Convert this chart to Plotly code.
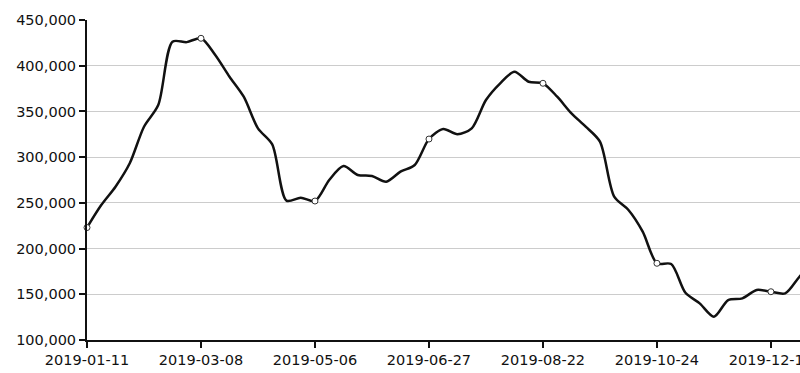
import plotly.graph_objects as go

dates = [
    "2019-01-11", "2019-01-18", "2019-01-25", "2019-02-01", "2019-02-08", "2019-02-15", "2019-02-22", "2019-03-01",
    "2019-03-08", "2019-03-15", "2019-03-22", "2019-03-29", "2019-04-04", "2019-04-12", "2019-04-19", "2019-04-26",
    "2019-05-06", "2019-05-10", "2019-05-17", "2019-05-24", "2019-05-31", "2019-06-06", "2019-06-14", "2019-06-21",
    "2019-06-27", "2019-07-04", "2019-07-11", "2019-07-18", "2019-07-25", "2019-08-01", "2019-08-08", "2019-08-15",
    "2019-08-22", "2019-08-29", "2019-09-05", "2019-09-12", "2019-09-19", "2019-09-26", "2019-10-10", "2019-10-17",
    "2019-10-24", "2019-10-31", "2019-11-07", "2019-11-14", "2019-11-21", "2019-11-28", "2019-12-05", "2019-12-12",
    "2019-12-19", "2019-12-26", "2020-01-02", "2020-01-09",
]
values = [
    223000, 247600, 267700, 293300, 333300, 357000, 426300, 425800,
    430000, 411700, 388000, 366100, 331500, 314000, 252400, 255700,
    252000, 275000, 290300, 280500, 279400, 273200, 284100, 291400,
    319800, 330800, 325000, 331500, 362500, 380800, 393500, 382500,
    380800, 366100, 347900, 333300, 316900, 256700, 242200, 218500,
    183900, 183100, 151700, 140100, 125500, 143700, 145600, 154700,
    152800, 151000, 169200, 185000,
]
tick_labels = ["2019-01-11", "2019-03-08", "2019-05-06", "2019-06-27",
               "2019-08-22", "2019-10-24", "2019-12-19"]
y_ticks = [100000, 150000, 200000, 250000, 300000, 350000, 400000, 450000]

mark_idx = [dates.index(d) for d in tick_labels]

fig = go.Figure()
fig.add_trace(go.Scatter(
    x=dates, y=values, mode="lines",
    line=dict(color="#111111", width=2.5, shape="spline", smoothing=0.8),
    hoverinfo="skip", showlegend=False,
))
fig.add_trace(go.Scatter(
    x=[dates[i] for i in mark_idx], y=[values[i] for i in mark_idx], mode="markers",
    marker=dict(symbol="circle", size=6, color="white",
                line=dict(color="#333333", width=1)),
    cliponaxis=False, showlegend=False,
))

fig.update_layout(
    width=800, height=373,
    margin=dict(l=87, r=0, t=20, b=33, autoexpand=False),
    paper_bgcolor="white", plot_bgcolor="white",
    font=dict(family="DejaVu Sans", size=14.5, color="#111111"),
    showlegend=False,
)
fig.update_xaxes(
    type="category", categoryorder="array", categoryarray=dates,
    range=[0, 50.04], automargin=False,
    tickmode="array", tickvals=tick_labels, ticktext=tick_labels,
    ticks="outside", ticklen=6, tickwidth=1.5, tickcolor="#111111",
    showline=True, linecolor="#111111", linewidth=2,
    showgrid=False, zeroline=False,
)
fig.update_yaxes(
    range=[100000, 450000], automargin=False,
    tickmode="array", tickvals=y_ticks,
    ticktext=[f"{v:,}" for v in y_ticks],
    ticks="outside", ticklen=6, tickwidth=1.5, tickcolor="#111111",
    showline=True, linecolor="#111111", linewidth=2,
    showgrid=True, gridcolor="#cccccc", gridwidth=1,
    zeroline=False,
)

fig.write_html("out.html")
